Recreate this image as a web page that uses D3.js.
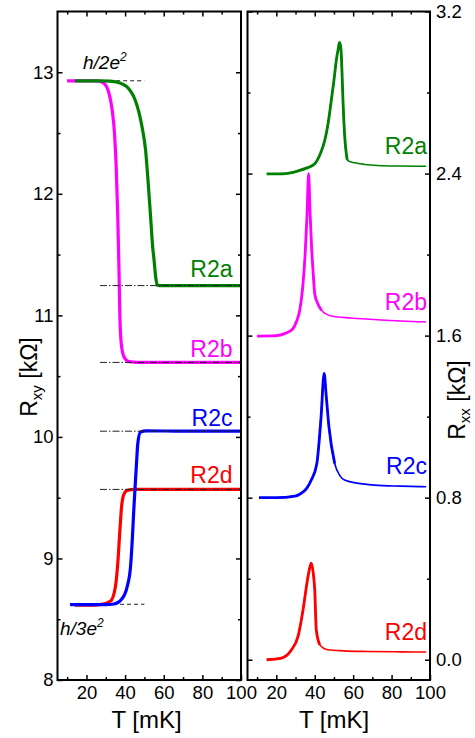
<!DOCTYPE html>
<html><head><meta charset="utf-8">
<script src="https://cdn.jsdelivr.net/npm/d3@7"></script>
<style>
body{margin:0;background:#fff}
svg text{font-family:"Liberation Sans",Arial,Helvetica,sans-serif;fill:#000}
</style>
</head><body>
<svg id="chart" width="475" height="738"></svg>
<script>
// ---------------- data ----------------
const seriesNames = ["R2a", "R2b", "R2c", "R2d"];
const seriesColors = ["#008000", "#ff00ff", "#0000ff", "#ff0000"];

// Hall resistance Rxy [kOhm] vs T [mK]
const rxyT_R2a = [14, 20, 27, 32, 36, 39, 41, 43, 45, 47, 48.9, 50.6, 52, 53.2, 54.4, 54.9, 55.8, 56.6, 58, 70, 85, 100];
const rxy_R2a  = [12.93, 12.93, 12.93, 12.927, 12.918, 12.90, 12.88, 12.84, 12.78, 12.68, 12.54, 12.36, 12.08, 11.81, 11.54, 11.47, 11.32, 11.25, 11.245, 11.245, 11.245, 11.245];
const rxyT_R2b = [10, 20, 25.5, 29, 31.6, 33.3, 34.5, 35.4, 36.2, 36.8, 37.3, 38, 39.4, 42, 50, 70, 100];
const rxy_R2b  = [12.93, 12.93, 12.93, 12.91, 12.83, 12.69, 12.50, 12.22, 11.81, 11.40, 10.99, 10.77, 10.66, 10.62, 10.613, 10.613, 10.613];
const rxyT_R2c = [11.5, 20, 30, 34.2, 38.5, 41.1, 42.8, 43.7, 44.5, 45.4, 45.9, 46.6, 48, 51, 70, 100];
const rxy_R2c  = [8.62, 8.62, 8.62, 8.625, 8.67, 8.77, 8.93, 9.15, 9.40, 9.65, 9.78, 9.95, 10.04, 10.05, 10.047, 10.047];
const rxyT_R2d = [14, 20, 27, 32.5, 35, 36.2, 37.3, 38.2, 39.4, 41.1, 45, 70, 100];
const rxy_R2d  = [8.615, 8.615, 8.62, 8.65, 8.77, 8.96, 9.23, 9.43, 9.53, 9.56, 9.568, 9.568, 9.568];

// Longitudinal resistance Rxx [kOhm] vs T [mK]
const rxxT_R2a = [15, 25, 31.3, 36, 40, 43, 45.2, 47, 48.6, 50, 51.2, 52.3, 52.9, 53.6, 54.2, 54.7, 55.5, 56.9, 58, 60.7, 66, 72.8, 85, 98];
const rxx_R2a  = [2.398, 2.40, 2.413, 2.428, 2.448, 2.50, 2.563, 2.65, 2.76, 2.86, 2.957, 3.02, 3.047, 3.02, 2.90, 2.76, 2.60, 2.468, 2.46, 2.453, 2.445, 2.44, 2.437, 2.436];
const rxxT_R2b = [10, 20, 24.4, 28.7, 30.5, 32.2, 33.9, 35, 36, 36.8, 37.6, 38.4, 39.1, 40, 41.5, 43.5, 48.6, 59, 75, 98];
const rxx_R2b  = [1.598, 1.60, 1.61, 1.635, 1.67, 1.725, 1.857, 2.0, 2.2, 2.399, 2.2, 2.03, 1.922, 1.807, 1.76, 1.725, 1.697, 1.687, 1.677, 1.667];
const rxxT_R2c = [11, 20, 29.7, 33, 35.8, 38.2, 41.1, 43.3, 44.9, 46, 47.4, 50.4, 53, 55.5, 62, 71.1, 85, 98];
const rxx_R2c  = [0.80, 0.80, 0.808, 0.822, 0.846, 0.887, 0.969, 1.199, 1.413, 1.30, 1.15, 0.969, 0.91, 0.887, 0.872, 0.862, 0.857, 0.854];
const rxxT_R2d = [15, 22.7, 27.9, 31.3, 33.9, 36.2, 37.3, 38.2, 39.2, 40, 40.8, 42.6, 46.9, 55, 67.6, 85, 98];
const rxx_R2d  = [0.0, 0.008, 0.049, 0.115, 0.246, 0.394, 0.45, 0.477, 0.43, 0.345, 0.148, 0.074, 0.049, 0.044, 0.041, 0.039, 0.038];

// quantized plateaus and reference lines
const quantumValues = [12.93, 8.623];           // h/2e^2, h/3e^2 (as drawn)
const quantumT = [10, 50];
const quantumT2 = [12, 50];
const plateauValues = [11.245, 10.613, 10.047, 9.568];
const plateauT = [27, 100];

// ticks
const xMajorTicks = [20, 40, 60, 80, 100];
const xMinorTicks = [10, 30, 50, 70, 90];
const rxyMajorTicks = [8, 9, 10, 11, 12, 13];
const rxyMinorTicks = [8.5, 9.5, 10.5, 11.5, 12.5];
const rxxMajorTicks = [0.0, 0.8, 1.6, 2.4, 3.2];
const rxxMinorTicks = [0.4, 1.2, 2.0, 2.8];
const xDomain = [5, 100];
const rxyDomain = [8, 13.5];
const rxxDomain = [-0.1, 3.2];

// ---------------- layout ----------------
const svg = d3.select("#chart");
const plotTop = 11.5, plotBottom = 680;
const L = {x0: 57.5, x1: 241};
const R = {x0: 247.5, x1: 430};
const TICKFONT = 18.5;

const xL = d3.scaleLinear().domain(xDomain).range([L.x0, L.x1]);
const xR = d3.scaleLinear().domain(xDomain).range([R.x0, R.x1]);
const yL = d3.scaleLinear().domain(rxyDomain).range([plotBottom, plotTop]);
const yR = d3.scaleLinear().domain(rxxDomain).range([plotBottom, plotTop]);

const FONT = '"Liberation Sans",Arial,Helvetica,sans-serif';

function styleAxis(g, size) {
  g.select(".domain").remove();
  g.selectAll(".tick line").attr("stroke", "#000").attr("stroke-width", 1.5);
  g.selectAll("text").attr("font-family", FONT).attr("font-size", size).attr("fill", "#000");
  g.attr("font-family", null).attr("font-size", null);
}

function drawAxes(x, y, yMaj, yMin, yFmt, side) {
  const x0 = x.range()[0], x1 = x.range()[1];
  svg.append("g").attr("transform", `translate(0,${plotBottom})`)
    .call(d3.axisBottom(x).tickValues(xMajorTicks).tickSize(-5).tickPadding(6).tickFormat(d3.format("d")))
    .call(g => styleAxis(g, TICKFONT));
  svg.append("g").attr("transform", `translate(0,${plotBottom})`)
    .call(d3.axisBottom(x).tickValues(xMinorTicks).tickSize(-3).tickFormat(""))
    .call(g => styleAxis(g, TICKFONT));
  svg.append("g").attr("transform", `translate(0,${plotTop})`)
    .call(d3.axisTop(x).tickValues(xMajorTicks.filter(d => d < 100)).tickSize(-5).tickFormat(""))
    .call(g => styleAxis(g, TICKFONT));
  svg.append("g").attr("transform", `translate(0,${plotTop})`)
    .call(d3.axisTop(x).tickValues(xMinorTicks).tickSize(-3).tickFormat(""))
    .call(g => styleAxis(g, TICKFONT));
  svg.append("g").attr("transform", `translate(${x0},0)`)
    .call(d3.axisLeft(y).tickValues(yMaj).tickSize(-5).tickPadding(4)
      .tickFormat(side === "left" ? yFmt : ""))
    .call(g => styleAxis(g, TICKFONT));
  svg.append("g").attr("transform", `translate(${x0},0)`)
    .call(d3.axisLeft(y).tickValues(yMin).tickSize(-3).tickFormat(""))
    .call(g => styleAxis(g, TICKFONT));
  svg.append("g").attr("transform", `translate(${x1},0)`)
    .call(d3.axisRight(y).tickValues(yMaj).tickSize(-5).tickPadding(6)
      .tickFormat(side === "right" ? yFmt : ""))
    .call(g => styleAxis(g, TICKFONT));
  svg.append("g").attr("transform", `translate(${x1},0)`)
    .call(d3.axisRight(y).tickValues(yMin).tickSize(-3).tickFormat(""))
    .call(g => styleAxis(g, TICKFONT));
  svg.append("rect").attr("x", x0).attr("y", plotTop).attr("width", x1 - x0).attr("height", plotBottom - plotTop)
    .attr("fill", "none").attr("stroke", "#000").attr("stroke-width", 2);
}

// ---------------- reference dashed lines ----------------
svg.append("line").attr("x1", xL(quantumT[0])).attr("x2", xL(quantumT[1]))
  .attr("y1", yL(quantumValues[0])).attr("y2", yL(quantumValues[0]))
  .attr("stroke", "#222").attr("stroke-width", 1).attr("stroke-dasharray", "4,3");
svg.append("line").attr("x1", xL(quantumT2[0])).attr("x2", xL(quantumT2[1]))
  .attr("y1", yL(quantumValues[1])).attr("y2", yL(quantumValues[1]))
  .attr("stroke", "#222").attr("stroke-width", 1).attr("stroke-dasharray", "4,3");

// ---------------- curves ----------------
const rxyT = [rxyT_R2a, rxyT_R2b, rxyT_R2c, rxyT_R2d];
const rxyV = [rxy_R2a, rxy_R2b, rxy_R2c, rxy_R2d];
const rxxT = [rxxT_R2a, rxxT_R2b, rxxT_R2c, rxxT_R2d];
const rxxV = [rxx_R2a, rxx_R2b, rxx_R2c, rxx_R2d];
const thickUntil = [57, 45, 52, 45];
const rxyDrawOrder = [1, 0, 3, 2];

const lineL = d3.line().x(d => xL(d[0])).y(d => yL(d[1])).curve(d3.curveMonotoneX);
const lineR = d3.line().x(d => xR(d[0])).y(d => yR(d[1])).curve(d3.curveMonotoneX);

rxyDrawOrder.forEach(i => {
  const pts = rxyT[i].map((t, k) => [t, rxyV[i][k]]);
  svg.append("path").attr("d", lineL(pts)).attr("fill", "none")
    .attr("stroke", seriesColors[i]).attr("stroke-width", 3.2).attr("stroke-linejoin", "round");
});

plateauValues.forEach(v => {
  svg.append("line").attr("x1", xL(plateauT[0])).attr("x2", xL(plateauT[1]))
    .attr("y1", yL(v)).attr("y2", yL(v)).attr("stroke", "#222").attr("stroke-width", 1)
    .attr("stroke-dasharray", "7,2,1.5,2");
});

[0, 1, 2, 3].forEach(i => {
  const pts = rxxT[i].map((t, k) => [t, rxxV[i][k]]);
  svg.append("path").attr("d", lineR(pts)).attr("fill", "none")
    .attr("stroke", seriesColors[i]).attr("stroke-width", 1.6).attr("stroke-linejoin", "round");
  const thick = pts.filter(p => p[0] <= thickUntil[i]);
  svg.append("path").attr("d", lineR(thick)).attr("fill", "none")
    .attr("stroke", seriesColors[i]).attr("stroke-width", 2.8).attr("stroke-linejoin", "round");
});

// ---------------- axes ----------------
drawAxes(xL, yL, rxyMajorTicks, rxyMinorTicks, d3.format("d"), "left");
drawAxes(xR, yR, rxxMajorTicks, rxxMinorTicks, d3.format(".1f"), "right");

// ---------------- labels ----------------
const labOffL = [8.5, 5.5, 5, 6.3];
seriesNames.forEach((n, i) => {
  const v = rxyV[i][rxyV[i].length - 1];
  svg.append("text").attr("x", 232.5).attr("y", yL(v) - labOffL[i])
    .attr("text-anchor", "end").attr("font-size", 23).style("fill", seriesColors[i]).text(n);
  const w = rxxV[i][rxxV[i].length - 1];
  svg.append("text").attr("x", 427).attr("y", yR(w) - 12.5)
    .attr("text-anchor", "end").attr("font-size", 23).style("fill", seriesColors[i]).text(n);
});

function qLabel(x, y, d) {
  const t = svg.append("text").attr("x", x).attr("y", y).attr("font-size", 19).attr("font-style", "italic");
  t.append("tspan").text(d);
  t.append("tspan").attr("font-size", 12).attr("dy", -8).text("2");
}
qLabel(83, 69, "h/2e");
qLabel(60, 635, "h/3e");

svg.append("text").attr("x", 146.5).attr("y", 728).attr("text-anchor", "middle").attr("font-size", 24).text("T [mK]");
svg.append("text").attr("x", 334).attr("y", 728).attr("text-anchor", "middle").attr("font-size", 24).text("T [mK]");

function yTitle(x, y, sub) {
  const t = svg.append("text").attr("transform", `translate(${x},${y}) rotate(-90)`)
    .attr("text-anchor", "middle").attr("font-size", 23);
  t.append("tspan").text("R");
  t.append("tspan").attr("font-size", 15).attr("dy", 5).text(sub);
  t.append("tspan").attr("dy", -5).text(" [k\u03A9]");
}
yTitle(36.5, 377, "xy");
yTitle(465, 400, "xx");
</script>
</body></html>
